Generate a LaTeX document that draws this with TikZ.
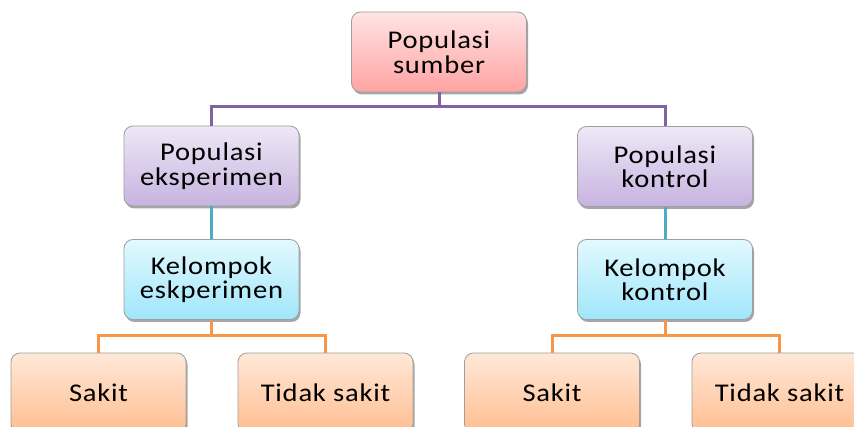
\documentclass[tikz,border=0pt]{standalone}
\usepackage{fontspec}
\setmainfont{Carlito}[FakeStretch=1.12,LetterSpace=3]
\usetikzlibrary{shadows}
\definecolor{pinkT}{HTML}{FFE4E4}
\definecolor{pinkB}{HTML}{FFA3A3}
\definecolor{purT}{HTML}{EEE8F6}
\definecolor{purB}{HTML}{C7B3E0}
\definecolor{bluT}{HTML}{E2F9FF}
\definecolor{bluB}{HTML}{A0E6FA}
\definecolor{oraT}{HTML}{FFE8D8}
\definecolor{oraB}{HTML}{FFBE90}
\definecolor{lpur}{HTML}{8064A2}
\definecolor{lblu}{HTML}{4BACC6}
\definecolor{lora}{HTML}{F79646}
\begin{document}
\begin{tikzpicture}[x=1pt,y=-1pt,
  box/.style={draw=gray!75, line width=0.8pt, rounded corners=9pt,
    minimum width=175pt, minimum height=80pt, align=center, inner sep=2pt,
    font=\fontsize{25.5}{24.5}\selectfont,
    drop shadow={shadow xshift=1.5pt, shadow yshift=-2.5pt, opacity=0.35, fill=black}},
  pinkbox/.style={box, top color=pinkT, bottom color=pinkB},
  purbox/.style={box, top color=purT, bottom color=purB},
  blubox/.style={box, top color=bluT, bottom color=bluB},
  orabox/.style={box, top color=oraT, bottom color=oraB},
  pline/.style={draw=lpur, line width=3pt},
  bline/.style={draw=lblu, line width=3pt},
  oline/.style={draw=lora, line width=3pt}
]
\useasboundingbox (0,0) rectangle (854,427);
\clip (0,0) rectangle (854,427);
\fill[white] (0,0) rectangle (854,427);
% connector levels
\coordinate (h1) at (0,107);
\coordinate (h2) at (0,336);
% nodes
\node[pinkbox] (src) at (439,52) {Populasi\\sumber};
\node[purbox] (pe) at (211.5,166) {Populasi\\eksperimen};
\node[purbox] (pk) at (665,166.5) {Populasi\\kontrol};
\node[blubox] (ke) at (211.5,279.5) {Kelompok\\eskperimen};
\node[blubox] (kk) at (665,279.5) {Kelompok\\kontrol};
\node[orabox] (s1) at (98.5,393) {Sakit};
\node[orabox] (t1) at (325.5,393) {Tidak sakit};
\node[orabox] (s2) at (552,393) {Sakit};
\node[orabox] (t2) at (779.5,393) {Tidak sakit};
% connectors
\draw[pline] (src.south) -- (src.south |- h1) -| (pe.north);
\draw[pline] (src.south |- h1) -| (pk.north);
\draw[bline] (pe.south) -- (ke.north);
\draw[bline] (pk.south) -- (kk.north);
\draw[oline] (ke.south) -- (ke.south |- h2) -| (s1.north);
\draw[oline] (ke.south |- h2) -| (t1.north);
\draw[oline] (kk.south) -- (kk.south |- h2) -| (s2.north);
\draw[oline] (kk.south |- h2) -| (t2.north);
\end{tikzpicture}
\end{document}
